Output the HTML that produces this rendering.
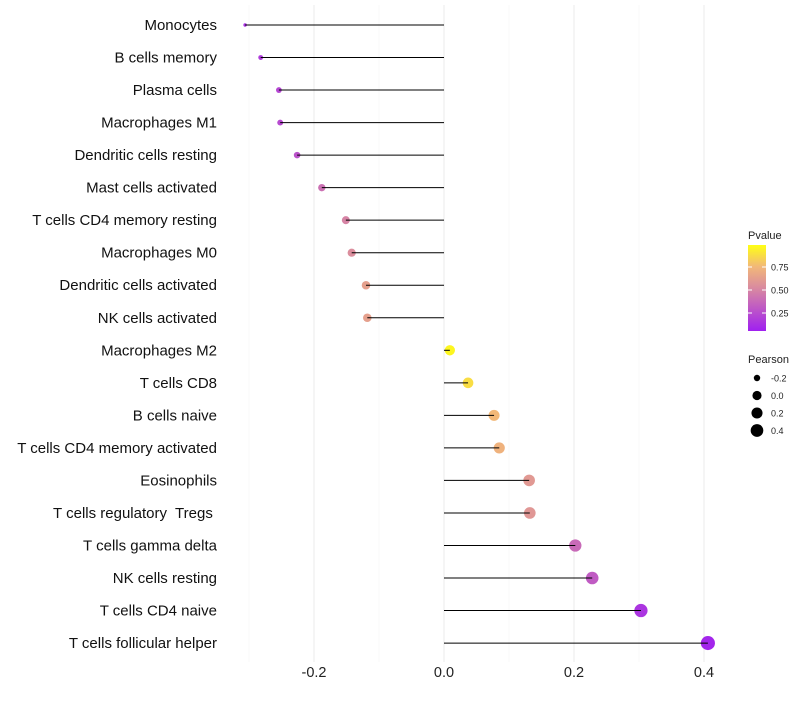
<!DOCTYPE html>
<html><head><meta charset="utf-8"><style>
body{margin:0;background:#fff;font-family:"Liberation Sans",sans-serif}
text{white-space:pre}
</style></head><body>
<svg id="c" width="800" height="700"></svg>
<script>
const categories=["Monocytes","B cells memory","Plasma cells","Macrophages M1","Dendritic cells resting","Mast cells activated","T cells CD4 memory resting","Macrophages M0","Dendritic cells activated","NK cells activated","Macrophages M2","T cells CD8","B cells naive","T cells CD4 memory activated","Eosinophils","T cells regulatory  Tregs ","T cells gamma delta","NK cells resting","T cells CD4 naive","T cells follicular helper"];
const pearson=[-0.306,-0.282,-0.254,-0.252,-0.226,-0.188,-0.151,-0.142,-0.120,-0.118,0.009,0.037,0.077,0.085,0.131,0.132,0.202,0.228,0.303,0.406];
const pvalue=[0.08,0.13,0.18,0.20,0.24,0.38,0.47,0.52,0.62,0.62,0.97,0.88,0.75,0.72,0.58,0.57,0.35,0.28,0.10,0.03];
const xTicks=[-0.2,0,0.2,0.4];
const xTickLabels=["-0.2","0.0","0.2","0.4"];
const pTicks=[0.25,0.5,0.75];
const pTickLabels=["0.25","0.50","0.75"];
const sizeLegend=[-0.2,0,0.2,0.4];
const sizeLegendLabels=["-0.2","0.0","0.2","0.4"];
const NS="http://www.w3.org/2000/svg",svg=document.getElementById('c');
const x=v=>444+v*650, y=i=>25+i*32.53, r=p=>1.3+6.8*Math.sqrt(Math.max(0,p+0.31));
const stops=[[0,[160,32,240]],[0.5,[217,138,160]],[0.75,[242,184,120]],[1,[255,255,20]]];
function col(t){for(let k=1;k<stops.length;k++){if(t<=stops[k][0]){const a=stops[k-1],b=stops[k],f=(t-a[0])/(b[0]-a[0]);return 'rgb('+a[1].map((c,j)=>Math.round(c+(b[1][j]-c)*f)).join(',')+')';}}return 'rgb(255,255,20)';}
function el(t,a,txt){const e=document.createElementNS(NS,t);for(const k in a)e.setAttribute(k,a[k]);if(txt!==undefined)e.textContent=txt;svg.appendChild(e);return e;}
[-0.3,-0.1,0.1,0.3].forEach(v=>{const g=el('line',{x1:x(v),x2:x(v),y1:5,y2:662,stroke:'#f4f4f4','stroke-width':0.6});

});
xTicks.forEach((v,i)=>{const g=el('line',{x1:x(v),x2:x(v),y1:5,y2:662,stroke:'#ebebeb','stroke-width':1});


const t=el('text',{x:x(v),y:677,'text-anchor':'middle','font-size':14.5,fill:'#222'},xTickLabels[i]);

});
categories.forEach((c,i)=>{
const t=el('text',{x:217,y:y(i)+5,'text-anchor':'end','font-size':15,fill:'#111'},c);


const d=el('circle',{cx:x(pearson[i]),cy:y(i),r:r(pearson[i]),fill:col(pvalue[i])});


const l=el('line',{x1:x(0),x2:x(pearson[i]),y1:y(i),y2:y(i),stroke:'#000','stroke-width':1});


});
const defs=el('defs',{});
const lg=document.createElementNS(NS,'linearGradient');lg.setAttribute('id','pg');lg.setAttribute('x1',0);lg.setAttribute('y1',1);lg.setAttribute('x2',0);lg.setAttribute('y2',0);defs.appendChild(lg);
stops.forEach(s=>{const st=document.createElementNS(NS,'stop');st.setAttribute('offset',s[0]);st.setAttribute('stop-color',col(s[0]));lg.appendChild(st);});
const pt=el('text',{x:748,y:239,'font-size':11,fill:'#222'},'Pvalue');


const cb=el('rect',{x:748,y:245,width:18,height:86,fill:'url(#pg)'});


const py=v=>336-v*92;
pTicks.forEach((v,i)=>{el('line',{x1:748,x2:752,y1:py(v),y2:py(v),stroke:'#fff'});el('line',{x1:762,x2:766,y1:py(v),y2:py(v),stroke:'#fff'});
const t=el('text',{x:771,y:py(v)+3.5,'font-size':9,fill:'#222'},pTickLabels[i]);

});
const st=el('text',{x:748,y:363,'font-size':11,fill:'#222'},'Pearson');


sizeLegend.forEach((v,i)=>{const cy=378+i*17.5;
const d=el('circle',{cx:757,cy:cy,r:r(v)*0.9,fill:'#000'});


const t=el('text',{x:771,y:cy+3.5,'font-size':9,fill:'#222'},sizeLegendLabels[i]);

});
</script>
</body></html>
